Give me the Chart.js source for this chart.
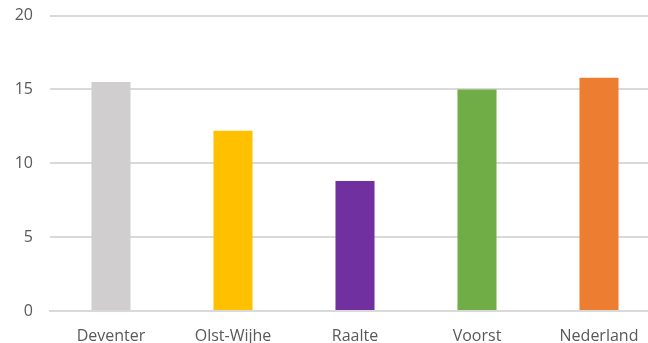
<!DOCTYPE html>
<html>
<head>
<meta charset="utf-8">
<script src="https://cdn.jsdelivr.net/npm/chart.js@4/dist/chart.umd.min.js"></script>
<style>
  html, body { margin: 0; padding: 0; background: #fff; overflow: hidden; }
  #wrap { width: 648px; height: 343px; overflow: hidden; position: relative; }
  canvas { display: block; position: absolute; left: 0; top: -11px; }
</style>
</head>
<body>
<div id="wrap"><canvas id="c" width="660" height="354" style="width:660px;height:354px"></canvas></div>
<script>
// Regions and their values
const categories = ['Deventer', 'Olst-Wijhe', 'Raalte', 'Voorst', 'Nederland'];
const values = [15.5, 12.2, 8.8, 15.0, 15.8];
const barColors = ['#d0cece', '#ffc000', '#7030a0', '#70ad47', '#ed7d31'];
const yTicks = [0, 5, 10, 15, 20];

const textColor = '#595959';
const gridColor = '#d9d9d9';
const fontFamily = '"Open Sans", Lato, sans-serif';

new Chart(document.getElementById('c'), {
  type: 'bar',
  data: {
    labels: categories,
    datasets: [{
      data: values,
      backgroundColor: barColors,
      borderWidth: 0,
      barPercentage: 0.32,
      categoryPercentage: 1.0
    }]
  },
  options: {
    responsive: false,
    animation: false,
    devicePixelRatio: 1,
    layout: { padding: 0 },
    plugins: { legend: { display: false }, tooltip: { enabled: false } },
    scales: {
      x: {
        grid: { display: false, drawTicks: false },
        border: { display: true, color: gridColor, width: 2 },
        ticks: { color: textColor, font: { family: fontFamily, size: 16 }, padding: 16 },
        afterFit: s => { s.height = 32; }
      },
      y: {
        min: 0, max: 20,
        afterBuildTicks: s => { s.ticks = yTicks.map(v => ({ value: v })); },
        grid: { color: gridColor, lineWidth: 2, drawTicks: false },
        border: { display: false },
        ticks: { color: textColor, font: { family: fontFamily, size: 16 }, padding: 17 },
        afterFit: s => { s.width = 50; }
      }
    }
  }
});
</script>
</body>
</html>
